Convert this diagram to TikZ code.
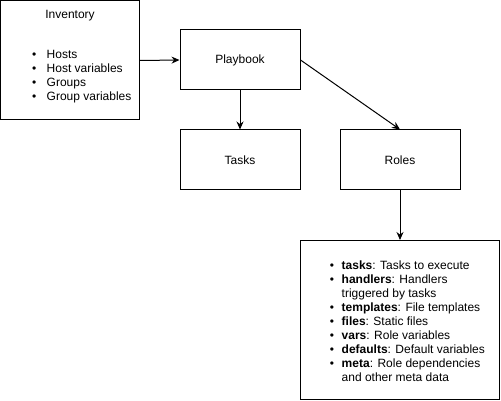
\documentclass[tikz,border=0pt]{standalone}
\usepackage{fontspec}
\setmainfont{Liberation Sans}
\usetikzlibrary{arrows.meta}
\begin{document}
\begin{tikzpicture}[x=1pt,y=-1pt,
  every node/.style={font=\fontsize{12pt}{14pt}\selectfont},
  box/.style={draw=black, line width=1pt, fill=white, inner sep=0pt},
  txt/.style={anchor=base west, inner sep=0pt},
  bul/.style={anchor=base west, inner sep=0pt},
  conn/.style={draw=black, line width=1pt, -{Stealth[length=8pt,width=7pt]}}]
\useasboundingbox (0,0) rectangle (501,401);
% boxes
\node[box, minimum width=139pt, minimum height=119pt] (inv) at (70,60.5) {};
\node[box, minimum width=120pt, minimum height=60pt] (play) at (240,60) {Playbook};
\node[box, minimum width=120pt, minimum height=60pt] (tasks) at (240,160) {Tasks};
\node[box, minimum width=120pt, minimum height=60pt] (roles) at (400,160) {Roles};
\node[box, minimum width=199pt, minimum height=159pt] (rc) at (400,320) {};
% inventory text
\node[anchor=base, inner sep=0pt] (invt) at (70,18.5) {Inventory};
\node[bul] (ib1) at (32,59) {\textbullet};
\node[txt] (it1) at (46.5,59) {Hosts};
\node[bul] (ib2) at (32,73) {\textbullet};
\node[txt] (it2) at (46.5,73) {Host variables};
\node[bul] (ib3) at (32,87) {\textbullet};
\node[txt] (it3) at (46.5,87) {Groups};
\node[bul] (ib4) at (32,101) {\textbullet};
\node[txt] (it4) at (46.5,101) {Group variables};
% role contents
\node[bul] (rb1) at (329.6,269.5) {\textbullet};
\node[txt] (rt1) at (341.5,269.5) {\textbf{tasks}: Tasks to execute};
\node[bul] (rb2) at (329.6,283.5) {\textbullet};
\node[txt] (rt2) at (341.5,283.5) {\textbf{handlers}: Handlers};
\node[txt] (rt2b) at (341.5,297.5) {triggered by tasks};
\node[bul] (rb3) at (329.6,311.5) {\textbullet};
\node[txt] (rt3) at (341.5,311.5) {\textbf{templates}: File templates};
\node[bul] (rb4) at (329.6,325.5) {\textbullet};
\node[txt] (rt4) at (341.5,325.5) {\textbf{files}: Static files};
\node[bul] (rb5) at (329.6,339.5) {\textbullet};
\node[txt] (rt5) at (341.5,339.5) {\textbf{vars}: Role variables};
\node[bul] (rb6) at (329.6,353.5) {\textbullet};
\node[txt] (rt6) at (341.5,353.5) {\textbf{defaults}: Default variables};
\node[bul] (rb7) at (329.6,367.5) {\textbullet};
\node[txt] (rt7) at (341.5,367.5) {\textbf{meta}: Role dependencies};
\node[txt] (rt7b) at (341.5,381.5) {and other meta data};
% connectors
\draw[conn] (inv.east) -- (play.west);
\draw[conn] (play.south) -- (tasks.north);
\draw[conn] (play.east) -- (roles.north);
\draw[conn] (roles.south) -- (rc.north);
\end{tikzpicture}
\end{document}
